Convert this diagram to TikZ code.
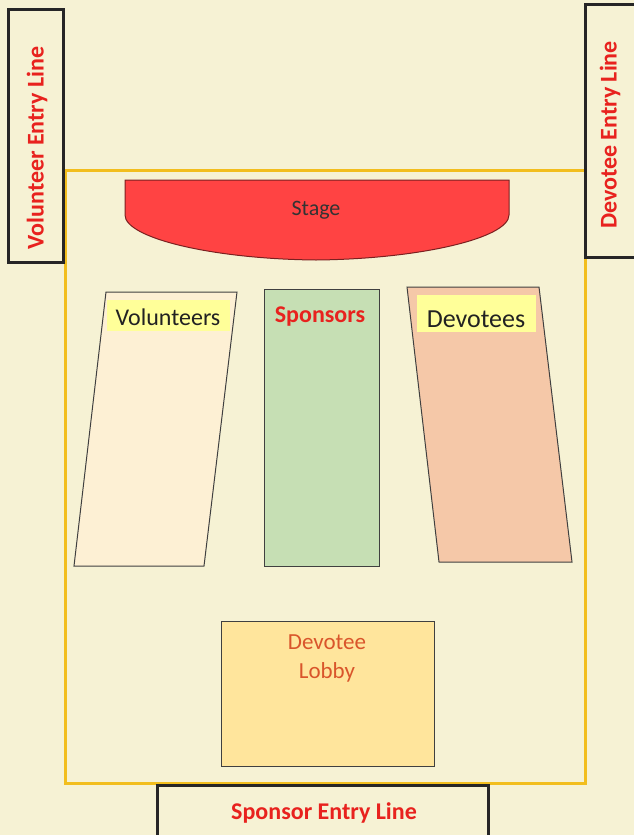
\documentclass[tikz,border=0pt]{standalone}
\usepackage{fontspec}
\setmainfont{Carlito}
\definecolor{bg}{HTML}{F6F2D4}
\definecolor{hall}{HTML}{F2BE1E}
\definecolor{stagefill}{HTML}{FF4343}
\definecolor{stageline}{HTML}{7A2020}
\definecolor{volfill}{HTML}{FDF0D4}
\definecolor{spofill}{HTML}{C6DFB4}
\definecolor{devfill}{HTML}{F5C8A8}
\definecolor{lobfill}{HTML}{FFE59C}
\definecolor{labfill}{HTML}{FFFF99}
\definecolor{redtxt}{HTML}{E8221E}
\definecolor{lobtxt}{HTML}{D9552B}
\definecolor{darktxt}{HTML}{222222}
\tikzset{
  entrybox/.style={draw=black!85, line width=3pt, fill=bg},
  zone/.style={draw=black!75, line width=1pt},
  entrytxt/.style={text=redtxt, font=\fontsize{24}{28}\selectfont\bfseries, inner sep=0pt},
  labbox/.style={fill=labfill, inner sep=0pt, anchor=north west},
}
\begin{document}
\begin{tikzpicture}[x=1pt,y=-1pt]
\useasboundingbox (0,0) rectangle (634,835);
\fill[bg] (0,0) rectangle (634,835);
% hall outline
\draw[hall, line width=3pt] (65,170) rectangle (585,783);
% entry boxes
\draw[entrybox] (8,9) rectangle (63,262);
\node[entrytxt, rotate=90] (voltxt) at (37,148) {Volunteer Entry Line};
\draw[entrybox] (585,4) rectangle (640,257);
\node[entrytxt, rotate=90] (devtxt) at (610,135) {Devotee Entry Line};
\draw[entrybox] (157,785) rectangle (488,845);
\node[entrytxt] (spotxt) at (324,813) {Sponsor Entry Line};
% stage
\draw[fill=stagefill, draw=stageline, line width=1pt]
  (125,180) -- (509,180) -- (509,215)
  .. controls (509,238) and (420,259) .. (316,260)
  .. controls (212,259) and (125,238) .. (125,215) -- cycle;
\node[text=black!80, font=\fontsize{22}{24}\selectfont] (stage) at (316,210) {Stage};
% volunteers
\draw[zone, fill=volfill] (106,292) -- (237,292) -- (204,566) -- (74,566) -- cycle;
\node[labbox, minimum width=123pt, minimum height=31pt] (vollab) at (107,300) {};
\node[text=darktxt, font=\fontsize{24}{26}\selectfont] (voltext) at (168,317) {Volunteers};
% sponsors
\draw[zone, fill=spofill] (264,289) rectangle (379,566);
\node[text=redtxt, font=\fontsize{24}{26}\selectfont\bfseries] (spotext) at (320,317) {Sponsors};
% devotees
\draw[zone, fill=devfill] (407,287) -- (539,287) -- (572,562) -- (439,562) -- cycle;
\node[labbox, minimum width=119pt, minimum height=37pt] (devlab) at (417,295) {};
\node[text=darktxt, font=\fontsize{26}{28}\selectfont] (devtext) at (476,319) {Devotees};
% lobby
\draw[zone, fill=lobfill] (221,621) rectangle (434,766);
\node[text=lobtxt, font=\fontsize{23}{29}\selectfont, align=center] (lobtext) at (327,658) {Devotee\\Lobby};
\end{tikzpicture}
\end{document}
